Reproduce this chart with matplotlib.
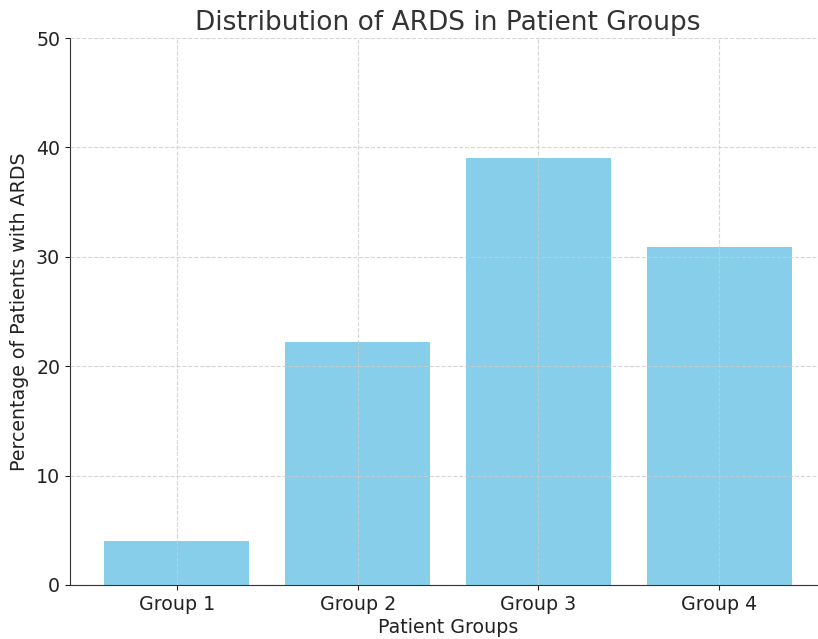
import matplotlib
matplotlib.use('Agg')
from matplotlib import pyplot as plt

groups = ['Group 1', 'Group 2', 'Group 3', 'Group 4']
ards_pct = [4.0, 22.2, 39.0, 30.9]

W, H = 818, 639
fig = plt.figure(figsize=(W / 100, H / 100), dpi=100)
ax = fig.add_axes([70 / W, (H - 585) / H, (826 - 70) / W, (585 - 38) / H])

ax.bar(groups, ards_pct, color='skyblue', width=0.8)
ax.set_ylim(0, 50)
ax.grid(True, ls='--', color='#cccccc', lw=0.8, alpha=0.8)
ax.set_axisbelow(False)
for s in ['top', 'right']:
    ax.spines[s].set_visible(False)
ax.spines['left'].set_color('#333333')
ax.spines['bottom'].set_color('#333333')

ax.tick_params(labelsize=13.7, colors='#222222')
ax.set_title('Distribution of ARDS in Patient Groups', fontsize=19, color='#333333', pad=6)
ax.set_xlabel('Patient Groups', fontsize=13.7, color='#222222', labelpad=3)
ax.set_ylabel('Percentage of Patients with ARDS', fontsize=13.7, color='#222222', labelpad=5)

fig.savefig('out.png', dpi=100)
